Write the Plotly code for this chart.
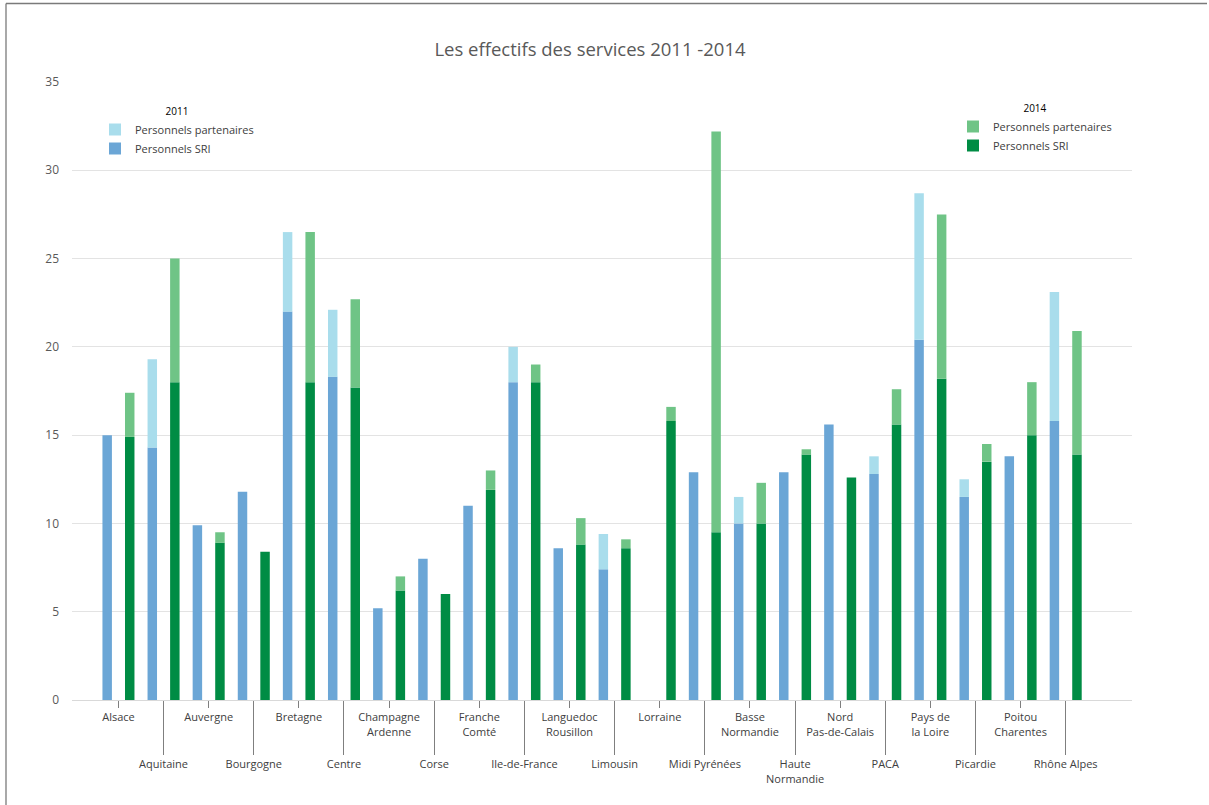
import plotly.graph_objects as go

# Regions (two-line names use <br>)
regions = ["Alsace", "Aquitaine", "Auvergne", "Bourgogne", "Bretagne", "Centre",
           "Champagne<br>Ardenne", "Corse", "Franche<br>Comté", "Ile-de-France",
           "Languedoc<br>Rousillon", "Limousin", "Lorraine", "Midi Pyrénées",
           "Basse<br>Normandie", "Haute<br>Normandie", "Nord<br>Pas-de-Calais", "PACA",
           "Pays de<br>la Loire", "Picardie", "Poitou<br>Charentes", "Rhône Alpes"]

# Staff counts per region
sri_2011 = [15.0, 14.3, 9.9, 11.8, 22.0, 18.3, 5.2, 8.0, 11.0, 18.0, 8.6,
            7.4, 0.0, 12.9, 10.0, 12.9, 15.6, 12.8, 20.4, 11.5, 13.8, 15.8]
partenaires_2011 = [0.0, 5.0, 0.0, 0.0, 4.5, 3.8, 0.0, 0.0, 0.0, 2.0, 0.0,
                    2.0, 0.0, 0.0, 1.5, 0.0, 0.0, 1.0, 8.3, 1.0, 0.0, 7.3]
sri_2014 = [14.9, 18.0, 8.9, 8.4, 18.0, 17.7, 6.2, 6.0, 11.9, 18.0, 8.8,
            8.6, 15.8, 9.5, 10.0, 13.9, 12.6, 15.6, 18.2, 13.5, 15.0, 13.9]
partenaires_2014 = [2.5, 7.0, 0.6, 0.0, 8.5, 5.0, 0.8, 0.0, 1.1, 1.0, 1.5,
                    0.5, 0.8, 22.7, 2.3, 0.3, 0.0, 2.0, 9.3, 1.0, 3.0, 7.0]

y_ticks = [0, 5, 10, 15, 20, 25, 30, 35]

COL_SRI_2011 = "#6BA6D6"
COL_PART_2011 = "#A9DDEC"
COL_SRI_2014 = "#008C44"
COL_PART_2014 = "#6FC486"

W, H = 1209, 805
M = dict(l=72, r=77, t=82, b=105, autoexpand=False)

idx = list(range(len(regions)))
bar_w = 0.21

fig = go.Figure()

# 2011 bars on the first x axis, 2014 bars on the overlaid one (same range)
fig.add_trace(go.Bar(x=idx, y=sri_2011, offset=-0.25 - bar_w / 2, width=bar_w,
                     marker=dict(color=COL_SRI_2011, line=dict(width=0)),
                     name="Personnels SRI", legend="legend"))
fig.add_trace(go.Bar(x=idx, y=partenaires_2011, base=sri_2011,
                     offset=-0.25 - bar_w / 2, width=bar_w,
                     marker=dict(color=COL_PART_2011, line=dict(width=0)),
                     name="Personnels partenaires", legend="legend"))
fig.add_trace(go.Bar(x=idx, y=sri_2014, offset=0.25 - bar_w / 2, width=bar_w,
                     marker=dict(color=COL_SRI_2014, line=dict(width=0)),
                     name="Personnels SRI", legend="legend2", xaxis="x2"))
fig.add_trace(go.Bar(x=idx, y=partenaires_2014, base=sri_2014,
                     offset=0.25 - bar_w / 2, width=bar_w,
                     marker=dict(color=COL_PART_2014, line=dict(width=0)),
                     name="Personnels partenaires", legend="legend2", xaxis="x2"))

upper = idx[0::2]
lower = idx[1::2]
x_range = [-1.03, 22.47]
label_font = dict(family="Open Sans, sans-serif", size=11, color="#404040")
axis_font = dict(family="Open Sans, sans-serif", size=12, color="#595959")

legend_common = dict(
    xref="container", yref="container", xanchor="left", yanchor="top",
    font=dict(family="Open Sans, sans-serif", size=11, color="#404040"),
    bgcolor="rgba(0,0,0,0)", traceorder="reversed", itemwidth=30,
    tracegroupgap=0, itemclick=False,
)

# frame along the top and left edges of the figure, in paper units
pw = W - M["l"] - M["r"]
ph = H - M["t"] - M["b"]
def px_to_paper_x(px):
    return (px - M["l"]) / pw
def px_to_paper_y(py):
    return (H - M["b"] - py) / ph

frame_line = dict(color="#7A7A7A", width=1.3)
frame = [
    dict(type="line", xref="paper", yref="paper", layer="below",
         x0=px_to_paper_x(6), x1=px_to_paper_x(W - 2),
         y0=px_to_paper_y(3.5), y1=px_to_paper_y(3.5), line=frame_line),
    dict(type="line", xref="paper", yref="paper", layer="below",
         x0=px_to_paper_x(6), x1=px_to_paper_x(6),
         y0=px_to_paper_y(3.5), y1=px_to_paper_y(H), line=frame_line),
]

fig.update_layout(
    width=W, height=H, margin=M,
    paper_bgcolor="white", plot_bgcolor="white",
    barmode="overlay",
    font=dict(family="Open Sans, sans-serif"),
    title=dict(text="Les effectifs des services 2011 -2014",
               x=590 / W, xref="container", xanchor="center",
               y=1 - 50 / H, yref="container", yanchor="middle",
               font=dict(family="Open Sans, sans-serif", size=18.5, color="#595959")),
    xaxis=dict(type="linear", range=x_range, tickvals=upper,
               ticktext=[regions[i] for i in upper], tickangle=0,
               ticks="outside", ticklen=7, tickcolor="#7F7F7F", tickwidth=1,
               showgrid=False, zeroline=False, showline=True,
               linecolor="#D9D9D9", linewidth=1, tickfont=label_font,
               ticklabelstandoff=0),
    xaxis2=dict(type="linear", range=x_range, overlaying="x", anchor="y",
                side="bottom", tickvals=lower,
                ticktext=[regions[i] for i in lower], tickangle=0,
                ticks="outside", ticklen=54, tickcolor="#7F7F7F", tickwidth=1,
                showgrid=False, zeroline=False, showline=False,
                tickfont=label_font, ticklabelstandoff=0),
    yaxis=dict(range=[0, 35], tickvals=y_ticks, showgrid=True,
               gridcolor="#E3E3E3", gridwidth=1, zeroline=False,
               ticks="", tickfont=axis_font, ticklabelstandoff=12),
    yaxis2=dict(range=[0, 35], tickvals=y_ticks, overlaying="y", side="right",
                anchor="x", showgrid=False, zeroline=False, ticks="",
                tickfont=axis_font, ticklabelstandoff=16),
    legend=dict(title=dict(text="2011", side="top center",
                           font=dict(family="Open Sans, sans-serif", size=10, color="#000000")),
                x=95 / W, y=1 - 102 / H, **legend_common),
    legend2=dict(title=dict(text="2014", side="top center",
                            font=dict(family="Open Sans, sans-serif", size=10, color="#000000")),
                 x=953 / W, y=1 - 99 / H, **legend_common),
    shapes=frame,
    showlegend=True,
)

fig.write_html("out.html", config={"displayModeBar": False})
